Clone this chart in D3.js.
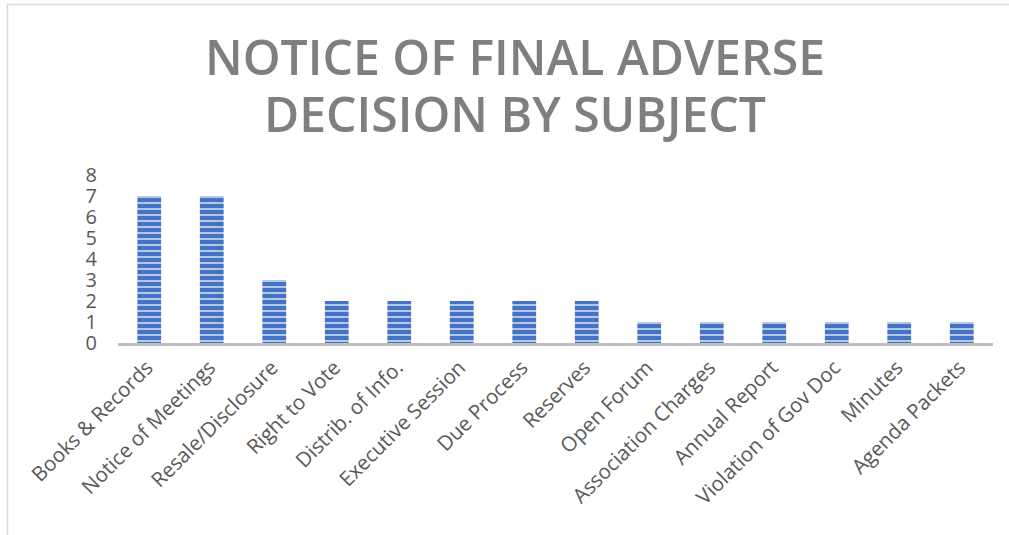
<!DOCTYPE html>
<html>
<head>
<meta charset="utf-8">
<script src="https://cdn.jsdelivr.net/npm/d3@7"></script>
<style>
  body { margin: 0; background: #fff; }
  svg { display: block; }
</style>
</head>
<body>
<div id="chart"></div>
<script>
var categories = ['Books & Records', 'Notice of Meetings', 'Resale/Disclosure', 'Right to Vote',
    'Distrib. of Info.', 'Executive Session', 'Due Process', 'Reserves', 'Open Forum',
    'Association Charges', 'Annual Report', 'Violation of Gov Doc', 'Minutes', 'Agenda Packets'];
var counts = [7, 7, 3, 2, 2, 2, 2, 2, 1, 1, 1, 1, 1, 1];
var yTicks = [0, 1, 2, 3, 4, 5, 6, 7, 8];
var titleLines = ['NOTICE OF FINAL ADVERSE', 'DECISION BY SUBJECT'];

var width = 1009, height = 535;

var svg = d3.select('#chart').append('svg')
    .attr('width', width)
    .attr('height', height);

// stripe fill for the bars
var defs = svg.append('defs');
var pat = defs.append('pattern')
    .attr('id', 'stripes')
    .attr('patternUnits', 'userSpaceOnUse')
    .attr('width', 8)
    .attr('height', 6);
pat.append('rect').attr('width', 8).attr('height', 6).attr('fill', '#4472c4');
pat.append('rect').attr('y', 4).attr('width', 8).attr('height', 2).attr('fill', '#b4c7e7');

// chart border
svg.append('rect')
    .attr('x', 7.5).attr('y', 4.5)
    .attr('width', 1020).attr('height', 560)
    .attr('fill', 'none')
    .attr('stroke', '#d9d9d9')
    .attr('stroke-width', 1.5);

// title
svg.selectAll('.title')
    .data(titleLines)
    .enter().append('text')
    .attr('class', 'title')
    .attr('x', 515)
    .attr('y', function(d, i){ return 75 + i * 57; })
    .attr('text-anchor', 'middle')
    .attr('textLength', function(d, i){ return i === 0 ? 620 : 502; })
    .attr('lengthAdjust', 'spacingAndGlyphs')
    .style('font-family', 'Open Sans, sans-serif')
    .style('font-weight', '600')
    .style('font-size', '48px')
    .style('fill', '#7f7f7f')
    .text(function(d){ return d; });

var x = d3.scaleBand()
    .domain(categories)
    .range([118, 993])
    .paddingInner(0.62)
    .paddingOuter(0.31);

var y = d3.scaleLinear()
    .domain([0, 8])
    .range([343, 175]);

// bars
svg.selectAll('.bar')
    .data(counts)
    .enter().append('rect')
    .attr('class', 'bar')
    .attr('x', function(d, i){ return x(categories[i]); })
    .attr('y', function(d){ return y(d); })
    .attr('width', x.bandwidth())
    .attr('height', function(d){ return y(0) - y(d); })
    .attr('fill', 'url(#stripes)');

// y axis labels
var yAxis = svg.append('g')
    .attr('transform', 'translate(97,0)')
    .call(d3.axisLeft(y).tickValues(yTicks).tickSize(0).tickPadding(0));
yAxis.select('.domain').remove();
yAxis.selectAll('text')
    .style('font-family', 'Open Sans, sans-serif')
    .style('font-size', '20px')
    .style('fill', '#595959');

// x axis
var xAxis = svg.append('g')
    .attr('transform', 'translate(0,' + y(0) + ')')
    .call(d3.axisBottom(x).tickSize(0).tickPadding(0));
xAxis.select('.domain')
    .attr('stroke', '#bfbfbf')
    .attr('stroke-width', 3)
    .attr('d', 'M118,1.5H993');
xAxis.selectAll('.tick text')
    .attr('x', 0).attr('y', 0).attr('dy', 0)
    .attr('text-anchor', 'end')
    .attr('transform', 'translate(5,26) rotate(-45)')
    .style('font-family', 'Open Sans, sans-serif')
    .style('font-size', '20.5px')
    .style('fill', '#595959');
</script>
</body>
</html>
